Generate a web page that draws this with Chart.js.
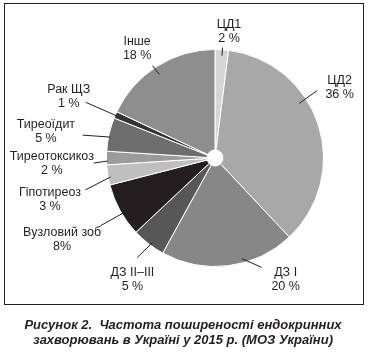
<!DOCTYPE html>
<html><head><meta charset="utf-8">
<script src="https://cdn.jsdelivr.net/npm/chart.js@4"></script>
<style>
html,body{margin:0;padding:0;background:#fff;}
#wrap{position:relative;width:369px;height:356px;}
#c{position:absolute;left:0;top:0;}
#frame{position:absolute;left:4px;top:3px;width:358px;height:300px;border:1.5px solid #231f20;pointer-events:none;}
#cap{position:absolute;left:0;top:317px;width:366px;text-align:center;font:italic bold 13px "Liberation Sans",Arial,sans-serif;color:#231f20;line-height:15px;}
</style></head><body>
<div id="wrap">
<canvas id="c" width="369" height="356"></canvas>
<div id="frame"></div>
<div id="cap">Рисунок 2.&nbsp; Частота поширеності ендокринних<br>захворювань в Україні у 2015 р. (МОЗ України)</div>
</div>
<script>
const categories = ["ЦД1","ЦД2","ДЗ I","ДЗ II–III","Вузловий зоб","Гіпотиреоз","Тиреотоксикоз","Тиреоїдит","Рак ЩЗ","Інше"];
const values = [2,36,20,5,8,3,2,5,1,18];
const valueLabels = ["2 %","36 %","20 %","5 %","8%","3 %","2 %","5 %","1 %","18 %"];
const colors = ["#d6d6d6","#a8a8a8","#878787","#575757","#231f20","#bfbfbf","#9b9b9b","#6e6e6e","#333333","#8e8e8e"];
// leader/label layout: [innerAngle, innerR, outerAngle, outerR, labelAngle, labelR] (deg clockwise from top, R fractions)
const layout = [
  [3.9,0.945,3.9,1.02,6.3,1.174],
  [57,0.927,56.6,1.128,60.4,1.321],
  [165,0.959,156.9,1.097,149.8,1.294],
  [216.5,0.971,218,1.163,214.2,1.354],
  [239,0.95,239.4,1.226,242,1.596],
  [259.7,0.979,256.2,1.228,255.8,1.569],
  [268.4,0.991,267.6,1.119,267.9,1.505],
  [281.3,0.982,279.8,1.239,279,1.578],
  [293.2,0.978,293.3,1.298,292.9,1.463],
  [326.3,0.927,325.9,1.028,324.6,1.239]
];
const labelPlugin = {
  id:'labels',
  afterDatasetsDraw(chart){
    const ctx = chart.ctx;
    const arc = chart.getDatasetMeta(0).data[0];
    const cx = arc.x, cy = arc.y, R = arc.outerRadius;
    const pt = (a,r)=>{const t=a*Math.PI/180;return [cx+R*r*Math.sin(t), cy-R*r*Math.cos(t)];};
    ctx.save();
    ctx.strokeStyle = '#231f20'; ctx.lineWidth = 1;
    ctx.fillStyle = '#231f20';
    ctx.font = '12.5px "Liberation Sans", Arial, sans-serif';
    ctx.textAlign = 'center'; ctx.textBaseline = 'middle';
    layout.forEach((L,i)=>{
      const p1 = pt(L[0],L[1]), p2 = pt(L[2],L[3]), pl = pt(L[4],L[5]);
      ctx.beginPath(); ctx.moveTo(p1[0],p1[1]); ctx.lineTo(p2[0],p2[1]); ctx.stroke();
      ctx.fillText(categories[i], pl[0], pl[1]-7);
      ctx.fillText(valueLabels[i], pl[0], pl[1]+7);
    });
    ctx.restore();
  }
};
new Chart(document.getElementById('c'), {
  type:'doughnut',
  data:{labels:categories, datasets:[{data:values, backgroundColor:colors, borderColor:'#ffffff', borderWidth:1}]},
  options:{
    responsive:false, animation:false, cutout:8,
    layout:{padding:{left:106,right:45,top:49,bottom:89}},
    plugins:{legend:{display:false}, tooltip:{enabled:false}}
  },
  plugins:[labelPlugin]
});
</script>
</body></html>
